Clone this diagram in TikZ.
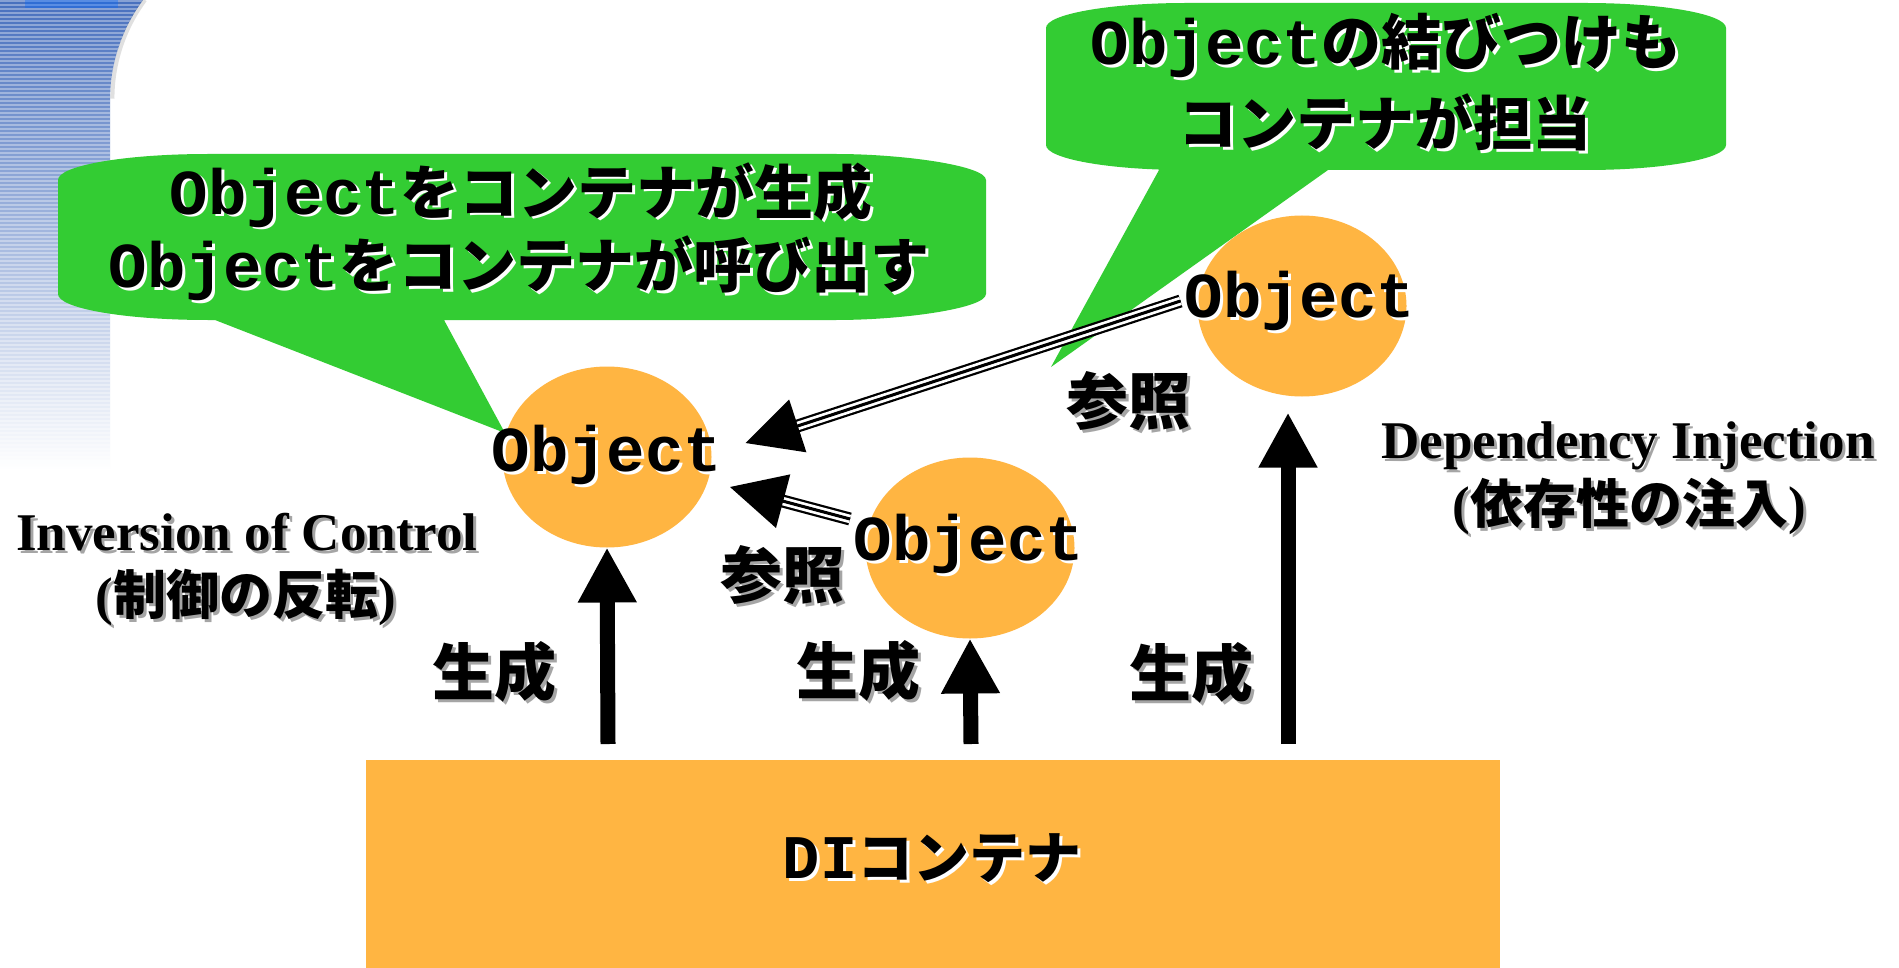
\documentclass[tikz,border=0pt]{standalone}
\usepackage{fontspec}
\setmainfont{Liberation Serif}
\newfontfamily\mono{Liberation Mono}
\newfontfamily\jp{Noto Sans CJK JP}
\usetikzlibrary{arrows.meta,shapes.geometric}
\definecolor{bgreen}{RGB}{51,204,51}
\definecolor{borange}{RGB}{255,181,66}
\definecolor{bandblue}{RGB}{72,112,190}
\definecolor{bandmid}{RGB}{165,182,220}
\definecolor{shgray}{RGB}{165,165,165}
\newcommand{\shd}[2]{\makebox[0pt][l]{\hspace{1.5pt}\raisebox{-1.5pt}{\color{#1}#2}}#2}
\newcommand{\J}[1]{{\jp\bfseries #1}}
\newcommand{\Js}[2]{{\fontsize{#1}{#1}\selectfont\jp\bfseries #2}}
\newcommand{\C}[1]{{\fontsize{32}{36}\selectfont\mono\bfseries #1}}
\newcommand{\refarrow}[2]{%
  \draw[line width=6.5pt, shorten >=25pt] #1 -- #2;
  \draw[white, line width=4.25pt, shorten >=25pt] #1 -- #2;
  \draw[line width=1.5pt, shorten >=25pt] #1 -- #2;
  \draw[line width=1pt, -{Triangle[length=27.5pt,width=27.5pt]}] #1 -- #2;}
\tikzset{
  big/.style={font=\fontsize{31}{36}\selectfont, inner sep=0pt, anchor=base},
  lab/.style={font=\fontsize{26.5}{30}\selectfont\bfseries, inner sep=0pt, anchor=base},
  obj/.style={ellipse, fill=borange, minimum width=104.5pt, minimum height=90.5pt, inner sep=0pt, outer sep=0pt},
  uparrow/.style={line width=7.5pt, -{Triangle[length=27.5pt,width=27.5pt]}},
  bubble/.style={fill=bgreen}
}
\begin{document}
\begin{tikzpicture}[x=0.5pt,y=-0.5pt]
\useasboundingbox (0,0) rectangle (1899,968);
\fill[white] (0,0) rectangle (1899,968);
% left decorative band
\shade[top color=bandblue, middle color=bandmid, bottom color=white]
  (0,0) -- (143,0) arc[start angle=216.5, end angle=180, radius=168] -- (110,470) -- (0,470) -- cycle;
\begin{scope}
  \clip (0,0) -- (143,0) arc[start angle=216.5, end angle=180, radius=168] -- (110,470) -- (0,470) -- cycle;
  \foreach \yy in {1,5,...,469} \draw[white, opacity=0.35, line width=0.8pt] (0,\yy) -- (160,\yy);
  \fill[blue!60!cyan, opacity=0.35] (25,0) rectangle (118,8);
\end{scope}
\draw[black, opacity=0.12, line width=2pt] (145,0) arc[start angle=216.5, end angle=180, radius=166];
% callout 1
\fill[bubble] (58,180) -- (58,294) .. controls (58,308.4) and (125,320) .. (208,320)
  -- (215,320) -- (505,433) -- (444,320) -- (836,320)
  .. controls (903,320) and (986,308.4) .. (986,294) -- (986,180)
  .. controls (986,165.6) and (903,154) .. (836,154) -- (208,154)
  .. controls (125,154) and (58,165.6) .. (58,180) -- cycle;
% callout 2
\fill[bubble] (1046,28) -- (1046,145) .. controls (1046,158.8) and (1109,170) .. (1186,170)
  -- (1159,170) -- (1051,367) -- (1328,170) -- (1586,170)
  .. controls (1663,170) and (1726,158.8) .. (1726,145) -- (1726,28)
  .. controls (1726,14.2) and (1663,3) .. (1586,3) -- (1186,3)
  .. controls (1109,3) and (1046,14.2) .. (1046,28) -- cycle;
% objects
\node[obj] (o1) at (607,457) {};
\node[obj] (o2) at (970,548) {};
\node[obj] (o3) at (1302,306) {};
% container
\node[rectangle, fill=borange, minimum width=567pt, minimum height=104pt, inner sep=0pt, outer sep=0pt, anchor=north west] (cont) at (366,760) {};
% creation arrows
\coordinate (b1) at (608,744);
\coordinate (b2) at (971,744);
\coordinate (b3) at (1288,744);
\draw[uparrow] (b1) -- (o1.south);
\draw[uparrow] (b2) -- (o2.south);
\draw[uparrow] (b3) -- ([shift={(-14,16)}]o3.south);
% reference arrows
\refarrow{([shift={(-17,-5)}]o3.west)}{([shift={(34,-14)}]o1.east)}
\refarrow{([shift={(-15.5,-29)}]o2.west)}{([shift={(18.5,30)}]o1.east)}
% texts
\node[big] (c1a) at (521,214) {\shd{white}{\C{Object}\Js{29.5}{をコンテナが生成}}};
\node[big] (c1b) at (519,287) {\shd{white}{\C{Object}\Js{29.5}{をコンテナが呼び出す}}};
\node[big] (c2a) at (1386,65) {\shd{white}{\C{Object}\Js{30}{の結びつけも}}};
\node[big] (c2b) at (1385,146) {\shd{white}{\Js{29.5}{コンテナが担当}}};
\node[big] (t1) at (607,471) {\shd{white}{\C{Object}}};
\node[big] (t2) at (969,560) {\shd{white}{\C{Object}}};
\node[big] (t3) at (1300,317) {\shd{white}{\C{Object}}};
\node[big] (ref1) at (1128,424) {\shd{shgray}{\J{参照}}};
\node[big] (ref2) at (782,598) {\shd{shgray}{\J{参照}}};
\node[big] (gen1) at (494,695) {\shd{shgray}{\J{生成}}};
\node[big] (gen2) at (858,694) {\shd{shgray}{\J{生成}}};
\node[big] (gen3) at (1191,696) {\shd{shgray}{\J{生成}}};
\node[lab] (ioc1) at (247,550) {\shd{shgray}{Inversion of Control}};
\node[lab] (ioc2) at (246,614) {\shd{shgray}{(\J{制御の反転})}};
\node[lab] (di1) at (1628,458) {\shd{shgray}{Dependency Injection}};
\node[lab] (di2) at (1629,523) {\shd{shgray}{(\J{依存性の注入})}};
\node[big] (dit) at (932,878) {\shd{white}{{\fontsize{31}{36}\selectfont\mono\bfseries DI}\Js{28}{コンテナ}}};
\end{tikzpicture}
\end{document}
